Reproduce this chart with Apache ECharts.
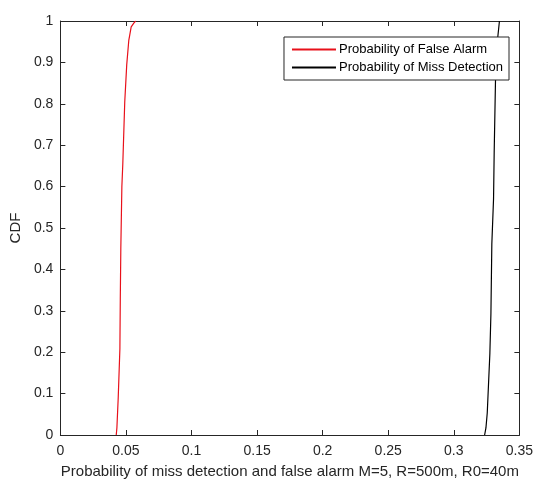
<!DOCTYPE html>
<html>
<head>
<meta charset="utf-8">
<script src="https://cdn.jsdelivr.net/npm/echarts@6/dist/echarts.min.js"></script>
<style>
  html, body { margin: 0; padding: 0; background: #fff; }
  #chart { width: 536px; height: 484px; }
</style>
</head>
<body>
<div id="chart"></div>
<script>
// CDF levels
var faCdf = [0, 0.017, 0.089, 0.209, 0.329, 0.45, 0.6, 0.654, 0.805, 0.894, 0.954, 0.966, 0.986, 0.995, 1.0];
var faProb = [0.0426, 0.0431, 0.0441, 0.0454, 0.0457, 0.0461, 0.0469, 0.0476, 0.0491, 0.0506, 0.0522, 0.0529, 0.054, 0.056, 0.0574];

var mdCdf = [0, 0.017, 0.053, 0.125, 0.197, 0.293, 0.462, 0.57, 0.685, 0.858, 0.954, 1.0];
var mdProb = [0.3235, 0.3245, 0.3255, 0.3265, 0.3275, 0.3283, 0.329, 0.3303, 0.3308, 0.3318, 0.3333, 0.3348];

var seriesNames = ['Probability of False Alarm', 'Probability of Miss Detection'];
var xTitle = 'Probability of miss detection and false alarm M=5, R=500m, R0=40m';
var yTitle = 'CDF';

var pairs = function (xs, ys) {
  var out = [];
  for (var i = 0; i < xs.length; i++) {
    out.push([xs[i], ys[i]]);
  }
  return out;
};

var axisColor = '#262626';
var font = 'Liberation Sans, Arial, sans-serif';

var chart = echarts.init(document.getElementById('chart'));

// box axes: bottom/left with labels, top/right just for ticks
var xBase = {
  type: 'value', min: 0, max: 0.35, interval: 0.05,
  axisLine: { show: true, onZero: false, lineStyle: { color: axisColor, width: 1 } },
  axisTick: { show: true, inside: true, length: 5, lineStyle: { color: axisColor } },
  splitLine: { show: false }
};
var yBase = {
  type: 'value', min: 0, max: 1, interval: 0.1,
  axisLine: { show: true, onZero: false, lineStyle: { color: axisColor, width: 1 } },
  axisTick: { show: true, inside: true, length: 5, lineStyle: { color: axisColor } },
  splitLine: { show: false }
};

var option = {
  backgroundColor: '#fff',
  animation: false,
  grid: { left: 59, right: 13, top: 21, bottom: 47, containLabel: false },
  legend: {
    data: seriesNames,
    orient: 'vertical',
    right: 27, top: 37,
    backgroundColor: '#fff',
    borderColor: axisColor,
    borderWidth: 1,
    borderRadius: 0,
    padding: [6, 6, 6, 8],
    itemGap: 5,
    itemWidth: 44,
    itemHeight: 2,
    icon: 'rect',
    textStyle: { fontFamily: font, fontSize: 13, color: '#000', padding: [0, 0, 0, -2] }
  },
  xAxis: [
    Object.assign({}, xBase, {
      position: 'bottom',
      name: xTitle,
      nameLocation: 'middle',
      nameGap: 29,
      nameTextStyle: { fontFamily: font, fontSize: 15, color: axisColor },
      axisLabel: {
        fontFamily: font, fontSize: 14, color: axisColor, margin: 9,
        formatter: function (v) { return v === 0 ? '0' : String(+v.toFixed(2)); }
      }
    }),
    Object.assign({}, xBase, { position: 'top', axisLabel: { show: false } })
  ],
  yAxis: [
    Object.assign({}, yBase, {
      position: 'left',
      name: yTitle,
      nameLocation: 'middle',
      nameGap: 36,
      nameTextStyle: { fontFamily: font, fontSize: 15, color: axisColor },
      axisLabel: {
        fontFamily: font, fontSize: 14, color: axisColor, margin: 7,
        formatter: function (v) { return v === 0 ? '0' : (v === 1 ? '1' : String(+v.toFixed(1))); }
      }
    }),
    Object.assign({}, yBase, { position: 'right', axisLabel: { show: false } })
  ],
  series: [
    {
      name: seriesNames[0],
      type: 'line',
      data: pairs(faProb, faCdf),
      showSymbol: false,
      symbol: 'none',
      itemStyle: { color: '#e8101a' },
      lineStyle: { color: '#e8101a', width: 1.2 }
    },
    {
      name: seriesNames[1],
      type: 'line',
      data: pairs(mdProb, mdCdf),
      showSymbol: false,
      symbol: 'none',
      itemStyle: { color: '#000' },
      lineStyle: { color: '#000', width: 1.2 }
    }
  ]
};

chart.setOption(option);
</script>
</body>
</html>
